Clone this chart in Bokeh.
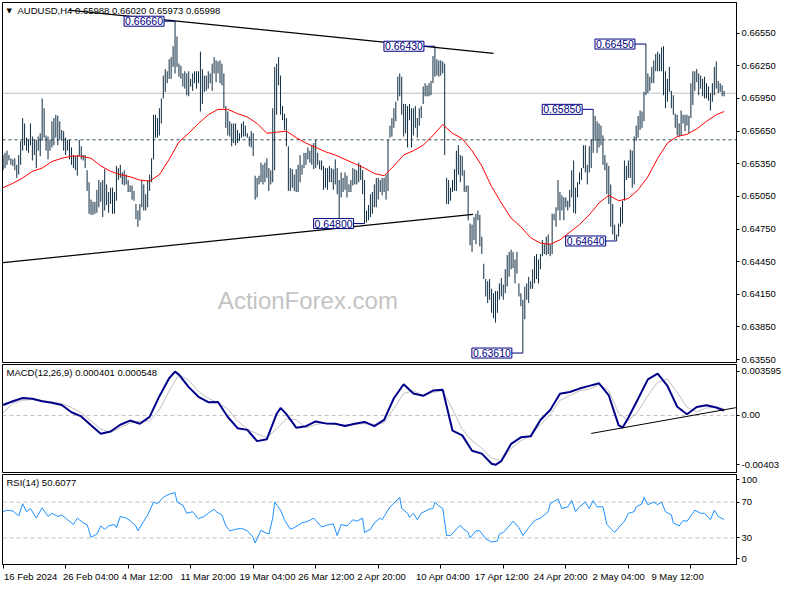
from bokeh.plotting import figure
from bokeh.layouts import column
from bokeh.models import Range1d, LinearAxis, FixedTicker, Label, Span, PrintfTickFormatter
from bokeh.embed import file_html
from bokeh.resources import INLINE

FONT = "Liberation Sans"
BAR_COLOR = "#0E2C42"

# ---------------- price data (H4 bars, high / low) ----------------
high = [
    0.6543, 0.6545, 0.6547, 0.6543, 0.6540, 0.6539, 0.6540, 0.6534, 0.6543, 0.6556,
    0.6577, 0.6572, 0.6559, 0.6557, 0.6572, 0.6560, 0.6557, 0.6557, 0.6560, 0.6563,
    0.6595, 0.6586, 0.6561, 0.6560, 0.6557, 0.6574, 0.6577, 0.6580, 0.6579, 0.6574,
    0.6566, 0.6565, 0.6559, 0.6557, 0.6557, 0.6550, 0.6543, 0.6542, 0.6543, 0.6557,
    0.6551, 0.6543, 0.6543, 0.6529, 0.6518, 0.6502, 0.6500, 0.6500, 0.6511, 0.6520,
    0.6518, 0.6520, 0.6530, 0.6516, 0.6509, 0.6513, 0.6513, 0.6509, 0.6533, 0.6531,
    0.6534, 0.6527, 0.6529, 0.6525, 0.6520, 0.6515, 0.6515, 0.6510, 0.6498, 0.6492,
    0.6498, 0.6520, 0.6516, 0.6507, 0.6520, 0.6525, 0.6540, 0.6580, 0.6580, 0.6577,
    0.6586, 0.6595, 0.6616, 0.6622, 0.6620, 0.6631, 0.6633, 0.6643, 0.6666, 0.6652,
    0.6627, 0.6625, 0.6618, 0.6620,
    0.6618, 0.6620, 0.6613, 0.6618, 0.6620, 0.6620, 0.6620, 0.6638, 0.6622, 0.6616,
    0.6616, 0.6620, 0.6618, 0.6627, 0.6633, 0.6630, 0.6629, 0.6630, 0.6627, 0.6618,
    0.6588, 0.6583, 0.6574, 0.6572, 0.6572, 0.6572, 0.6566, 0.6563, 0.6572, 0.6574,
    0.6570, 0.6563, 0.6560, 0.6565, 0.6563, 0.6524, 0.6522, 0.6524, 0.6536, 0.6534,
    0.6536, 0.6540, 0.6531, 0.6529, 0.6586, 0.6624, 0.6627, 0.6633, 0.6616, 0.6588,
    0.6581, 0.6577, 0.6551, 0.6531, 0.6530, 0.6525, 0.6530, 0.6534, 0.6543, 0.6534,
    0.6545, 0.6545, 0.6550, 0.6547, 0.6552, 0.6554, 0.6557, 0.6545, 0.6538, 0.6538,
    0.6533, 0.6531, 0.6531, 0.6533, 0.6531, 0.6530, 0.6539, 0.6531, 0.6520, 0.6527,
    0.6522, 0.6527, 0.6524, 0.6516, 0.6520, 0.6531, 0.6530, 0.6529, 0.6536, 0.6534,
    0.6529, 0.6520, 0.6492, 0.6497,
    0.6507, 0.6509, 0.6516, 0.6522, 0.6522, 0.6520, 0.6522, 0.6522, 0.6525, 0.6557,
    0.6570, 0.6577, 0.6586, 0.6592, 0.6615, 0.6618, 0.6615, 0.6590, 0.6590, 0.6588,
    0.6590, 0.6586, 0.6586, 0.6588, 0.6577, 0.6586, 0.6588, 0.6606, 0.6609, 0.6607,
    0.6609, 0.6611, 0.6634, 0.6643, 0.6631, 0.6630, 0.6630, 0.6629, 0.6627, 0.6522,
    0.6520, 0.6513, 0.6520, 0.6530, 0.6547, 0.6552, 0.6543, 0.6542, 0.6529, 0.6515,
    0.6515, 0.6480, 0.6479, 0.6486, 0.6489, 0.6492, 0.6488, 0.6468, 0.6443, 0.6429,
    0.6427, 0.6429, 0.6420, 0.6416, 0.6418, 0.6418, 0.6425, 0.6430, 0.6424, 0.6438,
    0.6451, 0.6454, 0.6456, 0.6454, 0.6447, 0.6454, 0.6425, 0.6416, 0.6410, 0.6422,
    0.6425, 0.6431, 0.6427, 0.6438, 0.6450, 0.6452, 0.6447, 0.6452, 0.6465, 0.6461,
    0.6468, 0.6470, 0.6461, 0.6489,
    0.6489, 0.6495, 0.6520, 0.6509, 0.6506, 0.6504, 0.6504, 0.6501, 0.6511, 0.6529,
    0.6538, 0.6513, 0.6518, 0.6527, 0.6531, 0.6552, 0.6552, 0.6534, 0.6551, 0.6557,
    0.6585, 0.6579, 0.6574, 0.6572, 0.6570, 0.6561, 0.6543, 0.6536, 0.6533, 0.6516,
    0.6498, 0.6479, 0.6470, 0.6480, 0.6495, 0.6501, 0.6538, 0.6533, 0.6538, 0.6548,
    0.6547, 0.6560, 0.6570, 0.6579, 0.6584, 0.6583, 0.6601, 0.6645, 0.6618, 0.6615,
    0.6624, 0.6630, 0.6636, 0.6638, 0.6636, 0.6642, 0.6643, 0.6620, 0.6613, 0.6624,
    0.6602, 0.6598, 0.6581, 0.6580, 0.6572, 0.6584, 0.6580, 0.6580, 0.6580, 0.6579,
    0.6609, 0.6620, 0.6620, 0.6622, 0.6618, 0.6616, 0.6613, 0.6615, 0.6609, 0.6606,
    0.6600, 0.6609, 0.6624, 0.6629, 0.6611, 0.6609, 0.6607, 0.6602,
]
low = [
    0.6529, 0.6531, 0.6534, 0.6538, 0.6534, 0.6533, 0.6529, 0.6522, 0.6525, 0.6534,
    0.6547, 0.6552, 0.6547, 0.6545, 0.6552, 0.6538, 0.6543, 0.6531, 0.6547, 0.6542,
    0.6556, 0.6559, 0.6547, 0.6539, 0.6547, 0.6550, 0.6552, 0.6559, 0.6552, 0.6557,
    0.6556, 0.6547, 0.6543, 0.6547, 0.6539, 0.6534, 0.6531, 0.6529, 0.6524, 0.6542,
    0.6539, 0.6538, 0.6531, 0.6510, 0.6489, 0.6488, 0.6488, 0.6489, 0.6490, 0.6495,
    0.6500, 0.6486, 0.6492, 0.6497, 0.6490, 0.6498, 0.6489, 0.6489, 0.6501, 0.6520,
    0.6522, 0.6516, 0.6515, 0.6516, 0.6509, 0.6509, 0.6502, 0.6501, 0.6484, 0.6477,
    0.6483, 0.6495, 0.6492, 0.6492, 0.6495, 0.6510, 0.6518, 0.6539, 0.6559, 0.6559,
    0.6561, 0.6572, 0.6595, 0.6601, 0.6609, 0.6613, 0.6613, 0.6624, 0.6618, 0.6624,
    0.6615, 0.6613, 0.6606, 0.6604,
    0.6598, 0.6597, 0.6606, 0.6602, 0.6609, 0.6604, 0.6609, 0.6583, 0.6590, 0.6601,
    0.6602, 0.6604, 0.6609, 0.6602, 0.6618, 0.6610, 0.6618, 0.6609, 0.6607, 0.6586,
    0.6568, 0.6561, 0.6560, 0.6551, 0.6554, 0.6552, 0.6554, 0.6556, 0.6559, 0.6560,
    0.6560, 0.6559, 0.6551, 0.6550, 0.6542, 0.6502, 0.6504, 0.6516, 0.6518, 0.6516,
    0.6518, 0.6522, 0.6510, 0.6516, 0.6518, 0.6529, 0.6580, 0.6607, 0.6580, 0.6575,
    0.6566, 0.6551, 0.6510, 0.6510, 0.6513, 0.6510, 0.6509, 0.6509, 0.6518, 0.6525,
    0.6531, 0.6534, 0.6539, 0.6536, 0.6534, 0.6530, 0.6531, 0.6534, 0.6530, 0.6529,
    0.6511, 0.6513, 0.6511, 0.6518, 0.6518, 0.6511, 0.6516, 0.6507, 0.6484, 0.6504,
    0.6509, 0.6511, 0.6504, 0.6509, 0.6509, 0.6515, 0.6516, 0.6516, 0.6518, 0.6520,
    0.6507, 0.6480, 0.6481, 0.6483,
    0.6486, 0.6489, 0.6495, 0.6495, 0.6502, 0.6509, 0.6506, 0.6509, 0.6502, 0.6510,
    0.6559, 0.6560, 0.6568, 0.6574, 0.6593, 0.6597, 0.6580, 0.6560, 0.6563, 0.6550,
    0.6575, 0.6550, 0.6561, 0.6568, 0.6559, 0.6570, 0.6577, 0.6590, 0.6597, 0.6597,
    0.6597, 0.6598, 0.6609, 0.6615, 0.6616, 0.6615, 0.6616, 0.6618, 0.6543, 0.6498,
    0.6498, 0.6501, 0.6509, 0.6510, 0.6510, 0.6525, 0.6518, 0.6524, 0.6509, 0.6509,
    0.6483, 0.6460, 0.6454, 0.6465, 0.6461, 0.6483, 0.6459, 0.6452, 0.6429, 0.6413,
    0.6407, 0.6410, 0.6398, 0.6393, 0.6389, 0.6398, 0.6410, 0.6413, 0.6410, 0.6416,
    0.6422, 0.6431, 0.6438, 0.6439, 0.6425, 0.6434, 0.6413, 0.6404, 0.6361, 0.6392,
    0.6410, 0.6407, 0.6420, 0.6420, 0.6425, 0.6429, 0.6425, 0.6438, 0.6450, 0.6452,
    0.6451, 0.6452, 0.6450, 0.6452,
    0.6483, 0.6477, 0.6492, 0.6483, 0.6492, 0.6483, 0.6495, 0.6492, 0.6495, 0.6504,
    0.6490, 0.6489, 0.6504, 0.6516, 0.6520, 0.6531, 0.6527, 0.6516, 0.6527, 0.6531,
    0.6545, 0.6556, 0.6545, 0.6550, 0.6552, 0.6534, 0.6529, 0.6507, 0.6498, 0.6477,
    0.6470, 0.6465, 0.6464, 0.6468, 0.6477, 0.6480, 0.6501, 0.6520, 0.6522, 0.6522,
    0.6513, 0.6516, 0.6556, 0.6559, 0.6566, 0.6568, 0.6574, 0.6598, 0.6600, 0.6602,
    0.6609, 0.6609, 0.6620, 0.6620, 0.6620, 0.6620, 0.6598, 0.6586, 0.6592, 0.6601,
    0.6586, 0.6580, 0.6568, 0.6561, 0.6560, 0.6561, 0.6572, 0.6565, 0.6570, 0.6563,
    0.6577, 0.6589, 0.6602, 0.6610, 0.6598, 0.6604, 0.6597, 0.6595, 0.6595, 0.6593,
    0.6584, 0.6592, 0.6598, 0.6604, 0.6600, 0.6601, 0.6597, 0.6597,
]
bar_index = list(range(len(high)))
last_price = 0.65998
level_price = 0.65570

# moving average (red), sampled every 5 bars
ma_bar = list(range(0, 370, 5)) + [369]
ma_val = [
    0.6513, 0.6517, 0.6522, 0.6528, 0.6531, 0.6537, 0.6540, 0.6542, 0.6542, 0.6540,
    0.6533, 0.6528, 0.6525, 0.6523, 0.6520, 0.6519, 0.6525, 0.6539, 0.6555, 0.6563,
    0.6572, 0.6580, 0.6585, 0.6585, 0.6581, 0.6578, 0.6572, 0.6563, 0.6564, 0.6565,
    0.6559, 0.6554, 0.6550, 0.6546, 0.6543, 0.6539, 0.6535, 0.6531, 0.6526, 0.6524,
    0.6533, 0.6543, 0.6547, 0.6552, 0.6561, 0.6571, 0.6563, 0.6558, 0.6547, 0.6533,
    0.6514, 0.6499, 0.6485, 0.6477, 0.6467, 0.6462, 0.6461, 0.6465, 0.6472, 0.6479,
    0.6488, 0.6499, 0.6506, 0.6501, 0.6503, 0.6511, 0.6523, 0.6540, 0.6554, 0.6560,
    0.6562, 0.6567, 0.6574, 0.6580, 0.6583,
]

# labelled swing points
label_bar = [88, 185, 221, 266, 302, 314, 329]
label_price = [0.6666, 0.6480, 0.6643, 0.6361, 0.6585, 0.6464, 0.6645]

# trend lines
trend_up_x = [33.5, 251]
trend_up_y = [0.66762, 0.66365]
trend_lo_x = [0, 240.5]
trend_lo_y = [0.64441, 0.64884]

price_ticks = [0.6655, 0.6625, 0.6595, 0.6565, 0.6535, 0.6505, 0.6475, 0.6445, 0.6415, 0.6385, 0.6355]

# ---------------- MACD ----------------
macd_bar = [0, 5, 10, 15, 20, 25, 30, 35, 40, 45, 50, 55, 60, 65, 70, 75, 80, 85, 88, 90,
            95, 100, 105, 110, 115, 120, 125, 130, 135, 140, 142, 145, 150, 155, 160, 165, 170,
            175, 180, 185, 190, 195, 200, 205, 210, 215, 220, 225, 230, 235, 240, 245, 250,
            252, 255, 260, 265, 270, 275, 280, 285, 290, 295, 300, 305, 310, 315, 317, 320,
            325, 330, 335, 340, 345, 350, 355, 360, 365, 369]
macd_main = [0.00085, 0.00116, 0.00142, 0.00136, 0.00116, 0.00103, 0.00085, 0.00026, -0.00008, -0.00080,
             -0.00150, -0.00131, -0.00076, -0.00042, -0.00068, -0.00012, 0.00157, 0.00303, 0.00357, 0.00333,
             0.00231, 0.00152, 0.00108, 0.00110, -0.00013, -0.00104, -0.00118, -0.00210, -0.00194, 0.00013,
             0.00061, 0.00010, -0.00100, -0.00088, -0.00049, -0.00065, -0.00068,
             -0.00087, -0.00068, -0.00053, -0.00087, -0.00037, 0.00140, 0.00254, 0.00179, 0.00160, 0.00203,
             0.00209, -0.00124, -0.00163, -0.00289, -0.00312, -0.00395,
             -0.00403, -0.00373, -0.00232, -0.00179, -0.00171, -0.00037, 0.00044, 0.00176, 0.00191, 0.00219,
             0.00241, 0.00262, 0.00163, -0.00079, -0.00100, -0.00019,
             0.00136, 0.00294, 0.00341, 0.00241, 0.00071, 0.00010, 0.00069, 0.00083, 0.00065, 0.00040]
signal_bar = list(range(0, 370, 5)) + [369]
macd_signal = [0.00022, 0.00097, 0.00124, 0.00129, 0.00120, 0.00110, 0.00097, 0.00065, 0.00020, -0.00045,
               -0.00113, -0.00139, -0.00100, -0.00061, -0.00047, -0.00047, 0.00044, 0.00201, 0.00333, 0.00286,
               0.00195, 0.00139, 0.00105, 0.00052, -0.00045, -0.00112, -0.00151, -0.00179, -0.00108, -0.00029,
               -0.00035, -0.00100, -0.00074, -0.00061, -0.00070, -0.00078, -0.00072, -0.00068, -0.00074, -0.00061,
               0.00057, 0.00179, 0.00201, 0.00162, 0.00189, 0.00201, 0.00051, -0.00114, -0.00205, -0.00268,
               -0.00348, -0.00370, -0.00271, -0.00205, -0.00165, -0.00074, 0.00005, 0.00123, 0.00162, 0.00201,
               0.00215, 0.00254, 0.00201, 0.00018, -0.00042, 0.00034, 0.00162, 0.00270, 0.00297, 0.00189,
               0.00065, 0.00030, 0.00061, 0.00065, 0.00055]
macd_trend_x = [301, 375]
macd_trend_y = [-0.00147, 0.00063]
macd_ticks = [0.003595, 0.0, -0.00403]
macd_tick_text = ["0.003595", "0.00", "-0.00403"]

# ---------------- RSI ----------------
rsi_bar = [0, 2, 5, 8, 10, 12, 14, 17, 20, 23, 25, 28, 30, 33, 36, 38, 41, 43, 45, 48,
           50, 52, 54, 57, 58, 60, 63, 65, 68, 69, 72, 74, 77, 79, 82, 85, 88, 89, 92, 94,
           97, 100, 103, 105, 108, 109, 112, 114, 116, 119, 122, 125, 128, 129, 132, 134, 136, 138, 139, 142,
           144, 147, 149, 153, 156, 159, 163, 166, 169, 171, 173, 176, 179, 181, 184, 185, 188, 190, 193, 194,
           198, 199, 203, 204, 207, 208, 210, 212, 214, 218, 220, 221, 223, 225, 227, 229, 232, 234, 235, 238,
           239, 242, 244, 247, 250, 253, 254, 256, 259, 261, 264, 266, 269, 272, 275, 279, 280, 284, 286, 289,
           291, 293, 295, 298, 300, 302, 304, 307, 309, 313, 315, 318, 320, 323, 324, 327, 328, 330, 333, 335,
           337, 339, 342, 343, 346, 348, 350, 353, 354, 357, 359, 362, 364, 366, 369]
rsi_val = [59.3, 61.0, 60.0, 54.6, 68.2, 59.3, 62.8, 52.1, 63.6, 54.0, 57.5, 54.0, 55.7, 50.3, 45.0, 52.1, 46.8, 45.0, 30.7, 34.3,
           43.3, 39.6, 43.3, 45.0, 41.4, 54.0, 52.1, 49.3, 43.3, 37.9, 48.6, 55.7, 70.0, 68.2, 75.3, 78.9, 80.7, 70.0, 66.4, 57.5,
           59.3, 51.4, 54.0, 57.5, 62.1, 59.3, 55.7, 43.3, 37.9, 39.6, 40.7, 37.9, 30.7, 24.3, 38.6, 36.1, 34.3, 52.1, 70.0, 61.0,
           50.3, 39.6, 41.4, 46.8, 48.6, 52.1, 42.2, 44.3, 45.7, 32.6, 45.0, 43.3, 50.3, 48.6, 52.1, 36.1, 39.6, 46.8, 52.1, 50.3,
           64.7, 66.4, 75.3, 62.8, 57.5, 52.9, 57.5, 50.3, 57.5, 62.1, 62.8, 70.0, 65.7, 62.8, 32.6, 32.6, 39.6, 44.3, 41.4, 36.1,
           30.0, 37.9, 37.9, 29.0, 25.4, 26.5, 34.3, 36.1, 43.3, 48.6, 41.4, 32.6, 41.4, 49.3, 52.1, 59.3, 68.2, 73.5, 62.8, 64.7,
           71.7, 59.3, 64.7, 70.0, 62.8, 71.7, 64.7, 64.7, 45.0, 36.1, 41.4, 48.6, 57.5, 59.3, 64.7, 68.2, 75.3, 67.1, 70.0, 67.1,
           70.0, 59.3, 55.7, 46.8, 43.3, 49.3, 48.6, 57.5, 61.0, 57.5, 57.5, 50.3, 61.0, 54.0, 50.6]
rsi_ticks = [94.9, 70, 30, 6.5]
rsi_tick_text = ["100", "70", "30", "0"]

# ---------------- time axis ----------------
date_labels = ["16 Feb 2024", "26 Feb 04:00", "4 Mar 12:00", "11 Mar 20:00", "19 Mar 04:00",
               "26 Mar 12:00", "2 Apr 20:00", "10 Apr 04:00", "17 Apr 12:00", "24 Apr 20:00",
               "2 May 04:00", "9 May 12:00"]
BARS_PER_LABEL = 32
date_ticks = [i * BARS_PER_LABEL for i in range(len(date_labels))]

# ====================================================================
X0, X1 = -0.3, 375.35
FRAME_W = 784 - 2 - 46
x_range = Range1d(X0, X1)


def make_fig(height, y0, y1, top, bottom):
    p = figure(width=784, height=height, x_range=x_range, y_range=Range1d(y0, y1),
               output_backend="svg", toolbar_location=None,
               x_axis_location=None, y_axis_location=None,
               min_border_left=2, min_border_right=46,
               min_border_top=top, min_border_bottom=bottom,
               background_fill_color="white", border_fill_color="white",
               outline_line_color="black", outline_line_width=1)
    p.xgrid.visible = False
    p.ygrid.visible = False
    return p


def right_axis(p, ticks, overrides=None, fmt=None):
    ax = LinearAxis(ticker=FixedTicker(ticks=ticks, minor_ticks=[]))
    if fmt:
        ax.formatter = PrintfTickFormatter(format=fmt)
    if overrides:
        ax.major_label_overrides = overrides
    ax.major_tick_out = 3
    ax.major_tick_in = 0
    ax.minor_tick_out = 0
    ax.minor_tick_in = 0
    ax.major_tick_line_color = "black"
    ax.axis_line_color = "black"
    ax.major_label_standoff = 2
    ax.major_label_text_font = FONT
    ax.major_label_text_font_size = "9.5px"
    ax.major_label_text_color = "black"
    p.add_layout(ax, "right")
    return ax


def header(p, x0, ytop, text, dx=4):
    p.add_layout(Label(x=x0, y=ytop, x_offset=dx, y_offset=-8, text=text,
                       text_font=FONT, text_font_size="9.5px", text_color="black",
                       text_baseline="middle", text_align="left"))


# ---------------- main price panel ----------------
p1 = make_fig(364, 0.63523, 0.66832, 2, 2)
right_axis(p1, price_ticks, fmt="%.5f")
p1.add_layout(Span(location=last_price, dimension="width", line_color="#C0C0C0",
                   line_width=1, level="underlay"))
p1.add_layout(Span(location=level_price, dimension="width", line_color="#2F4F4F",
                   line_width=1, line_dash="3 3", level="underlay"))
p1.add_layout(Label(x=156, y=0.6409, text="ActionForex.com", text_font=FONT,
                    text_font_size="24px", text_color="#C4C4C4",
                    text_align="center", text_baseline="middle"))
p1.segment(x0=bar_index, y0=low, x1=bar_index, y1=high, line_color=BAR_COLOR, line_width=1)
p1.line(ma_bar, ma_val, line_color="#FF0000", line_width=1)
p1.line(trend_up_x, trend_up_y, line_color="black", line_width=1.2)
p1.line(trend_lo_x, trend_lo_y, line_color="black", line_width=1.2)

p1.segment(x0=[b - 5.6 for b in label_bar], x1=label_bar, y0=label_price, y1=label_price,
           line_color="#000080", line_width=1)
for b, pr in zip(label_bar, label_price):
    p1.add_layout(Label(x=b, y=pr, x_offset=-11, text=f"{pr:.5f}", text_font=FONT,
                        text_font_size="10.5px", text_color="#000080",
                        text_align="right", text_baseline="middle",
                        background_fill_color="white", border_line_color="#000080",
                        border_line_width=1, padding=1))

for pr, bg in [(last_price, "black"), (level_price, "#2F4F4F")]:
    p1.add_layout(Label(x=X1, y=pr, x_offset=3, text=f"{pr:.5f}", text_font=FONT,
                        text_font_size="9.5px", text_color="white", text_align="left",
                        text_baseline="middle", background_fill_color=bg, padding=2))

p1.add_layout(Label(x=X0, y=0.66832, x_offset=4, y_offset=-8, text="\u25bc",
                    text_font="DejaVu Sans", text_font_size="7px", text_color="black",
                    text_baseline="middle"))
header(p1, X0, 0.66832, "AUDUSD,H4 0.65988 0.66020 0.65973 0.65998", dx=15)

# ---------------- MACD panel ----------------
p2 = make_fig(110, -0.004659, 0.004155, 0, 2)
right_axis(p2, macd_ticks, overrides=dict(zip(macd_ticks, macd_tick_text)))
p2.add_layout(Span(location=0, dimension="width", line_color="#C0C0C0", line_width=1,
                   line_dash="4 3", level="underlay"))
p2.line(signal_bar, macd_signal, line_color="#C0C0C0", line_width=1)
p2.line(macd_bar, macd_main, line_color="#00008B", line_width=2)
p2.line(macd_trend_x, macd_trend_y, line_color="black", line_width=1)
header(p2, X0, 0.004155, "MACD(12,26,9) 0.000401 0.000548")

# ---------------- RSI panel ----------------
p3 = make_fig(96, 0.3, 100.8, 0, 6)
right_axis(p3, rsi_ticks, overrides=dict(zip(rsi_ticks, rsi_tick_text)))
for lvl in (70, 30):
    p3.add_layout(Span(location=lvl, dimension="width", line_color="#C0C0C0", line_width=1,
                       line_dash="4 3", level="underlay"))
p3.line(rsi_bar, rsi_val, line_color="#1E90FF", line_width=1)
header(p3, X0, 100.8, "RSI(14) 50.6077")

xax = LinearAxis(ticker=FixedTicker(ticks=date_ticks, minor_ticks=[]))
xax.major_label_overrides = {t: "" for t in date_ticks}
xax.major_label_standoff = 0
xax.major_tick_out = 4
xax.major_tick_in = 0
xax.minor_tick_out = 0
xax.minor_tick_in = 0
xax.axis_line_color = "black"
xax.major_tick_line_color = "black"
p3.add_layout(xax, "below")

# ---------------- time labels strip (same bar scale, full width) ----------------
strip_w = 784 - 2
p4 = figure(width=784, height=14, x_range=Range1d(X0, X0 + (X1 - X0) * strip_w / FRAME_W),
            y_range=Range1d(0, 1), output_backend="svg", toolbar_location=None,
            x_axis_location=None, y_axis_location=None,
            min_border_left=2, min_border_right=0, min_border_top=0, min_border_bottom=0,
            background_fill_color="white", border_fill_color="white", outline_line_color=None)
p4.xgrid.visible = False
p4.ygrid.visible = False
for t, lbl in zip(date_ticks, date_labels):
    p4.add_layout(Label(x=t, y=0.55, x_offset=1, text=lbl, text_font=FONT,
                        text_font_size="9.5px", text_color="black",
                        text_align="left", text_baseline="middle"))

layout = column(p1, p2, p3, p4, spacing=0)
open("out.html", "w").write(file_html(layout, INLINE))
